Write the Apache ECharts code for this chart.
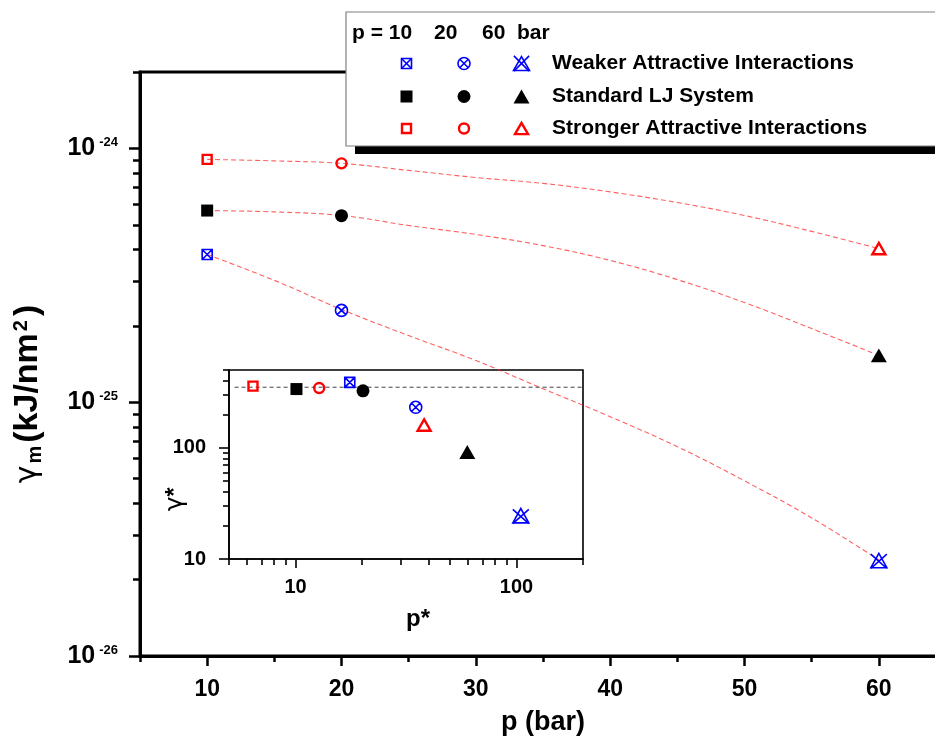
<!DOCTYPE html>
<html><head><meta charset="utf-8">
<script src="https://cdn.jsdelivr.net/npm/echarts@6/dist/echarts.min.js"></script>
<style>html,body{margin:0;padding:0;background:#fff}#c{width:935px;height:744px}</style>
</head><body><div id="c"></div>
<script>
// ---------- data ----------
const pressures = [10, 20, 60];                         // bar
const gammaWeaker = [3.82e-25, 2.30e-25, 2.37e-26];     // kJ/nm^2
const gammaStandard = [5.69e-25, 5.43e-25, 1.53e-25];
const gammaStronger = [9.05e-25, 8.73e-25, 4.03e-25];

const fitPressures = [10, 15, 20, 25, 30, 35, 40, 45, 50, 55, 60];
const fitWeaker = [3.82e-25, 3.02e-25, 2.32e-25, 1.83e-25, 1.46e-25, 1.13e-25, 8.77e-26, 6.68e-26, 4.90e-26, 3.50e-26, 2.39e-26];
const fitStandard = [5.69e-25, 5.62e-25, 5.44e-25, 4.97e-25, 4.58e-25, 4.14e-25, 3.62e-25, 3.04e-25, 2.47e-25, 1.95e-25, 1.53e-25];
const fitStronger = [9.05e-25, 8.93e-25, 8.73e-25, 8.19e-25, 7.68e-25, 7.28e-25, 6.74e-25, 6.12e-25, 5.44e-25, 4.71e-25, 4.03e-25];

const pStarWeaker = [17.6, 35.0, 104.6];
const gStarWeaker = [387, 231, 24.3];
const pStarStandard = [10.1, 20.2, 59.9];
const gStarStandard = [337, 325, 91.5];
const pStarStronger = [6.42, 12.8, 38.2];
const gStarStronger = [358, 344, 160];
const refLineP = [5.3, 200];
const refLineGamma = [350, 350];

const xTicks = [10, 20, 30, 40, 50, 60];
const xMinorTicks = [5, 15, 25, 35, 45, 55, 65];
const yTickExponents = [-26, -25, -24];
const insetXTicks = [10, 100];
const insetYTicks = [10, 100];
const legendHeader = ['p = 10', '20', '60', 'bar'];
const legendNames = ['Weaker Attractive Interactions', 'Standard LJ System', 'Stronger Attractive Interactions'];

// main y axis is drawn in units of 1e-24 kJ/nm^2 (avoids float rounding of tiny numbers in the log scale)
const UNIT_EXP = -24;
const UNIT = Math.pow(10, UNIT_EXP);

// ---------- styling ----------
const FONT = "'Liberation Sans', Arial, Helvetica, sans-serif";
const P = {
  sq: 'M0,0H10V10H0Z',
  ci: 'M5,0A5,5,0,1,1,5,10A5,5,0,1,1,5,0Z',
  tr: 'M5,0L10,8.66H0Z',
  sqx: 'M0,0H10V10H0Z M0,0L10,10M10,0L0,10',
  cix: 'M5,0A5,5,0,1,1,5,10A5,5,0,1,1,5,0Z M1.46,1.46L8.54,8.54M8.54,1.46L1.46,8.54',
  st: 'M5,0L10,9H0Z M0,0.5L10,9.5M10,0.5L0,9.5'
};
const groups = [
  { xs: pressures, ys: gammaWeaker, ps: pStarWeaker, gs: gStarWeaker, fit: fitWeaker,
    symbols: ['sqx', 'cix', 'st'], sizes: [10, 12, 16], color: '#0000ff', fill: 'rgba(0,0,0,0)', lw: 1.6 },
  { xs: pressures, ys: gammaStandard, ps: pStarStandard, gs: gStarStandard, fit: fitStandard,
    symbols: ['sq', 'ci', 'tr'], sizes: [12, 13, 16], color: '#000000', fill: '#000000', lw: 0 },
  { xs: pressures, ys: gammaStronger, ps: pStarStronger, gs: gStarStronger, fit: fitStronger,
    symbols: ['sq', 'ci', 'tr'], sizes: [9, 10, 13], color: '#ff0000', fill: 'rgba(0,0,0,0)', lw: 2.4 }
];

function scatterData(xs, ys, g, scale) {
  return xs.map((x, i) => ({
    value: [x, ys[i] / scale],
    symbol: 'path://' + P[g.symbols[i]],
    symbolSize: g.sizes[i],
    symbolKeepAspect: true,
    itemStyle: { color: g.fill, borderColor: g.color, borderWidth: g.lw, opacity: 1 }
  }));
}
const zip = (a, b, scale) => a.map((v, i) => [v, b[i] / (scale || 1)]);

const yMajor = yTickExponents.map(e => Math.pow(10, e - UNIT_EXP));
const yMinor = [];
yTickExponents.slice(0, 2).forEach(e => { for (let m = 2; m <= 9; m++) yMinor.push(m * Math.pow(10, e - UNIT_EXP)); });
yMinor.push(2);
const yMin = Math.pow(10, yTickExponents[0] - UNIT_EXP), yMax = 2;
const insetXMinor = [5, 6, 7, 8, 9, 20, 30, 40, 50, 60, 70, 80, 90, 200];
const insetYMinor = [20, 30, 40, 50, 60, 70, 80, 90, 200, 300, 400, 500];

const LO = 0.999999, HI = 1.000001;
const black = '#000';

// ---------- legend graphic (primitive shapes) ----------
function legendMarker(kind, cx, cy, sz, g) {
  const st = { fill: g.fill, stroke: g.lw ? g.color : null, lineWidth: g.lw };
  const ln = { stroke: g.color, lineWidth: g.lw };
  const h = sz / 2, out = [];
  const cross = (k) => [
    { type: 'line', z: 102, shape: { x1: cx - h * k, y1: cy - h * k, x2: cx + h * k, y2: cy + h * k }, style: ln },
    { type: 'line', z: 102, shape: { x1: cx + h * k, y1: cy - h * k, x2: cx - h * k, y2: cy + h * k }, style: ln }
  ];
  if (kind === 'sq' || kind === 'sqx') {
    out.push({ type: 'rect', z: 102, shape: { x: cx - h, y: cy - h, width: sz, height: sz }, style: st });
    if (kind === 'sqx') out.push(...cross(1));
  } else if (kind === 'ci' || kind === 'cix') {
    out.push({ type: 'circle', z: 102, shape: { cx: cx, cy: cy, r: h }, style: st });
    if (kind === 'cix') out.push(...cross(0.707));
  } else {
    const th = sz * 0.866;
    out.push({ type: 'polygon', z: 102, shape: { points: [[cx, cy - th / 2], [cx + h, cy + th / 2], [cx - h, cy + th / 2]] }, style: st });
    if (kind === 'st') out.push(...cross(0.95));
  }
  return out;
}
const legendChildren = [
  { type: 'rect', z: 100, shape: { x: 355, y: 20, width: 620, height: 134 }, style: { fill: '#000' } },
  { type: 'rect', z: 101, shape: { x: 346, y: 12, width: 620, height: 134 }, style: { fill: '#fff', stroke: '#808080', lineWidth: 1.2 } }
];
const headerX = [352, 434, 482, 517];
legendHeader.forEach((t, i) => legendChildren.push({
  type: 'text', z: 102, x: headerX[i], y: 33,
  style: { text: t, font: 'bold 21px ' + FONT, fill: '#000', align: 'left', verticalAlign: 'middle' }
}));
const rowY = [63.5, 96.5, 128.5];
const colX = [406.5, 464, 521.5];
const legendSizes = [[10, 12, 16], [12, 13, 16], [9, 10, 13]];
groups.forEach((g, r) => {
  g.symbols.forEach((s, c) => {
    legendChildren.push(...legendMarker(s, colX[c], rowY[r], legendSizes[r][c], g));
  });
  legendChildren.push({
    type: 'text', z: 102, x: 552, y: rowY[r],
    style: { text: legendNames[r], font: 'bold 21px ' + FONT, fill: '#000', align: 'left', verticalAlign: 'middle' }
  });
});

// ---------- axes ----------
const gridMain = { left: 140, top: 72, width: 806, height: 584, outerBoundsMode: 'none', containLabel: false };
const gridInset = { left: 229, top: 370, width: 354, height: 189, outerBoundsMode: 'none', containLabel: false };

const option = {
  animation: false,
  backgroundColor: '#fff',
  grid: [
    Object.assign({ show: true, borderColor: black, borderWidth: 3, backgroundColor: 'transparent' }, gridMain),
    Object.assign({}, gridMain),
    Object.assign({ show: true, borderColor: black, borderWidth: 1.6, backgroundColor: 'transparent' }, gridInset),
    Object.assign({}, gridInset)
  ],
  xAxis: [
    { gridIndex: 0, type: 'value', min: 5, max: 65,
      axisLine: { show: true, lineStyle: { color: black, width: 3 } },
      axisTick: { show: true, customValues: xTicks, length: 10, lineStyle: { color: black, width: 2.5 } },
      axisLabel: { show: true, customValues: xTicks, margin: 22, fontSize: 23, fontWeight: 'bold', color: black, fontFamily: FONT },
      splitLine: { show: false },
      name: 'p (bar)', nameLocation: 'middle', nameGap: 53, nameMoveOverlap: false,
      nameTextStyle: { fontSize: 27, fontWeight: 'bold', color: black, fontFamily: FONT } },
    { gridIndex: 1, type: 'value', min: 5, max: 65,
      axisLine: { show: false },
      axisTick: { show: true, customValues: xMinorTicks, length: 6, lineStyle: { color: black, width: 2.5 } },
      axisLabel: { show: false }, splitLine: { show: false } },
    { gridIndex: 2, type: 'log', logBase: 10, min: 5 * LO, max: 200 * HI,
      axisLine: { show: true, lineStyle: { color: black, width: 1.6 } },
      axisTick: { show: true, customValues: insetXTicks, length: 9, lineStyle: { color: black, width: 1.6 } },
      axisLabel: { show: true, customValues: insetXTicks, margin: 18, fontSize: 20, fontWeight: 'bold', color: black, fontFamily: FONT },
      splitLine: { show: false },
      name: 'p*', nameLocation: 'middle', nameGap: 48, nameMoveOverlap: false,
      nameTextStyle: { fontSize: 24, fontWeight: 'bold', color: black, fontFamily: FONT, padding: [0, 0, 0, 24] } },
    { gridIndex: 3, type: 'log', logBase: 10, min: 5 * LO, max: 200 * HI,
      axisLine: { show: false },
      axisTick: { show: true, customValues: insetXMinor, length: 6, lineStyle: { color: black, width: 1.6 } },
      axisLabel: { show: false }, splitLine: { show: false } }
  ],
  yAxis: [
    { gridIndex: 0, type: 'log', logBase: 10, min: yMin * LO, max: yMax * HI,
      axisLine: { show: true, lineStyle: { color: black, width: 3 } },
      axisTick: { show: true, customValues: yMajor, length: 11, lineStyle: { color: black, width: 2.5 } },
      axisLabel: { show: true, customValues: yMajor, margin: 22,
        formatter: v => '{b|10}{s|' + (Math.round(Math.log10(v)) + UNIT_EXP) + '}',
        rich: {
          b: { fontSize: 25, fontWeight: 'bold', color: black, fontFamily: FONT },
          s: { fontSize: 13, fontWeight: 'bold', color: black, fontFamily: FONT, verticalAlign: 'top', padding: [0, 0, 0, 4] }
        } },
      splitLine: { show: false },
      name: '{g|γ}{sub|m}{b|(kJ/nm}{sup|2}{b|)}', nameLocation: 'middle', nameRotate: 90, nameGap: 95, nameMoveOverlap: false,
      nameTextStyle: {
        padding: [0, 60, 0, 0],
        rich: {
          g: { fontSize: 30, fontWeight: 'normal', color: black, fontFamily: "'DejaVu Sans', sans-serif" },
          sub: { fontSize: 20, fontWeight: 'bold', color: black, fontFamily: FONT, verticalAlign: 'bottom', padding: [0, 3, 0, 2] },
          b: { fontSize: 34, fontWeight: 'bold', color: black, fontFamily: FONT },
          sup: { fontSize: 20, fontWeight: 'bold', color: black, fontFamily: FONT, verticalAlign: 'top', padding: [0, 4, 0, 2] }
        } } },
    { gridIndex: 1, type: 'log', logBase: 10, min: yMin * LO, max: yMax * HI,
      axisLine: { show: false },
      axisTick: { show: true, customValues: yMinor, length: 7, lineStyle: { color: black, width: 2.5 } },
      axisLabel: { show: false }, splitLine: { show: false } },
    { gridIndex: 2, type: 'log', logBase: 10, min: 10 * LO, max: 500 * HI,
      axisLine: { show: true, lineStyle: { color: black, width: 1.6 } },
      axisTick: { show: true, customValues: insetYTicks, length: 10, lineStyle: { color: black, width: 1.6 } },
      axisLabel: { show: true, customValues: insetYTicks, margin: 23, fontSize: 20, fontWeight: 'bold', color: black, fontFamily: FONT },
      splitLine: { show: false },
      name: '{g|γ}{b|*}', nameLocation: 'middle', nameRotate: 90, nameGap: 41, nameMoveOverlap: false,
      nameTextStyle: { padding: [0, 70, 0, 0],
        rich: {
          g: { fontSize: 25, fontWeight: 'normal', color: black, fontFamily: "'DejaVu Sans', sans-serif" },
          b: { fontSize: 23, fontWeight: 'bold', color: black, fontFamily: FONT }
        } } },
    { gridIndex: 3, type: 'log', logBase: 10, min: 10 * LO, max: 500 * HI,
      axisLine: { show: false },
      axisTick: { show: true, customValues: insetYMinor, length: 6, lineStyle: { color: black, width: 1.6 } },
      axisLabel: { show: false }, splitLine: { show: false } }
  ],
  graphic: { elements: legendChildren },
  series: []
};

groups.forEach(g => {
  option.series.push({
    type: 'line', xAxisIndex: 0, yAxisIndex: 0, data: zip(fitPressures, g.fit, UNIT),
    smooth: 0.4, showSymbol: false, symbol: 'none', silent: true, z: 1,
    lineStyle: { color: 'rgba(255,30,30,0.7)', width: 1.1, type: [5, 3] }
  });
});
groups.forEach(g => {
  option.series.push({ type: 'scatter', xAxisIndex: 0, yAxisIndex: 0, data: scatterData(g.xs, g.ys, g, UNIT), z: 3, silent: true });
});
option.series.push({
  type: 'line', xAxisIndex: 2, yAxisIndex: 2, data: zip(refLineP, refLineGamma),
  showSymbol: false, symbol: 'none', silent: true, z: 1,
  lineStyle: { color: '#444', width: 1, type: [4, 3] }
});
groups.forEach(g => {
  option.series.push({ type: 'scatter', xAxisIndex: 2, yAxisIndex: 2, data: scatterData(g.ps, g.gs, g, 1), z: 3, silent: true });
});

const chart = echarts.init(document.getElementById('c'), null, { renderer: 'canvas', width: 935, height: 744 });
chart.setOption(option);
</script>
</body></html>
